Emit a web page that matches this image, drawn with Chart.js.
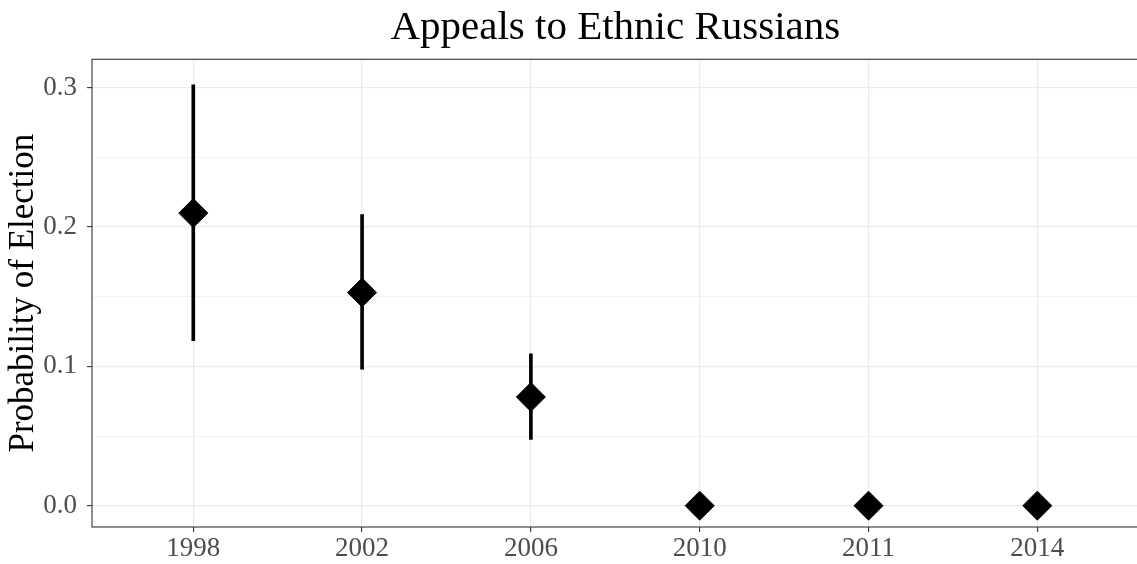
<!DOCTYPE html>
<html>
<head>
<meta charset="utf-8">
<script src="https://cdn.jsdelivr.net/npm/chart.js@4/dist/chart.umd.min.js"></script>
<style>
  html, body { margin: 0; padding: 0; background: #FFFFFF; overflow: hidden; }
  #chart { display: block; }
</style>
</head>
<body>
<canvas id="chart" width="1140" height="564"></canvas>
<script>
// Election years (discrete x axis)
const years = ['1998', '2002', '2006', '2010', '2011', '2014'];
// Point estimates and interval bounds
const estimates = [0.210, 0.153, 0.078, 0, 0, 0];
const lower = [0.1185, 0.098, 0.0475, 0, 0, 0];
const upper = [0.302, 0.209, 0.109, 0, 0, 0];
// y tick positions (major every 0.1, minor in between)
const yTicks = [0, 0.05, 0.1, 0.15, 0.2, 0.25, 0.3];

const serif = '"Liberation Serif", "Times New Roman", serif';
const gridColor = '#EBEBEB';
const tickColor = '#333333';

function isMajor(v) {
  return Math.abs(Math.round(v * 10) - v * 10) < 1e-6;
}

// ggplot-style panel border
const panelBorder = {
  id: 'panelBorder',
  afterDatasetsDraw(chart) {
    const {ctx, chartArea} = chart;
    ctx.save();
    ctx.strokeStyle = '#333333';
    ctx.lineWidth = 1.1;
    ctx.strokeRect(chartArea.left, chartArea.top, chartArea.right - chartArea.left, chartArea.bottom - chartArea.top);
    ctx.restore();
  }
};

const pointData = years.map((y, i) => ({x: i, y: estimates[i]}));
const barData = years.map((y, i) => ({x: i, y: [lower[i], upper[i]]}));

new Chart(document.getElementById('chart'), {
  type: 'bar',
  data: {
    datasets: [
      {
        type: 'scatter',
        data: pointData,
        pointStyle: 'rectRot',
        pointRadius: 14.5,
        backgroundColor: '#000000',
        borderColor: '#000000',
        borderWidth: 1,
        order: 0
      },
      {
        type: 'bar',
        data: barData,
        backgroundColor: '#000000',
        borderWidth: 0,
        barThickness: 3,
        order: 1
      }
    ]
  },
  options: {
    responsive: false,
    animation: false,
    layout: { autoPadding: false, padding: { left: 0, right: 1.4, top: 0, bottom: 0 } },
    plugins: {
      legend: { display: false },
      tooltip: { enabled: false },
      title: {
        display: true,
        text: 'Appeals to Ethnic Russians',
        fullSize: false,
        color: '#000000',
        font: { family: serif, size: 41, weight: 'normal', lineHeight: 1.2 },
        padding: { top: 4, bottom: 6.1 }
      }
    },
    scales: {
      x: {
        type: 'linear',
        min: -0.6,
        max: 5.6,
        offset: false,
        afterBuildTicks: s => { s.ticks = years.map((y, i) => ({value: i})); },
        afterFit: s => { s.height = 37; s.paddingLeft = 0; s.paddingRight = 0; },
        border: { display: false },
        grid: {
          offset: false,
          color: gridColor,
          lineWidth: 1.2,
          tickColor: tickColor,
          tickLength: 5,
          tickWidth: 1.1
        },
        ticks: {
          callback: v => years[v],
          color: '#4D4D4D',
          padding: 1,
          maxRotation: 0,
          font: { family: serif, size: 27 }
        }
      },
      y: {
        min: -0.0153,
        max: 0.3204,
        afterBuildTicks: s => { s.ticks = yTicks.map(v => ({value: v})); },
        afterFit: s => { s.width = 92; },
        border: { display: false },
        grid: {
          color: gridColor,
          lineWidth: ctx => isMajor(ctx.tick.value) ? 1.2 : 0.6,
          tickColor: ctx => isMajor(ctx.tick.value) ? tickColor : 'rgba(0,0,0,0)',
          tickLength: 5,
          tickWidth: 1.1
        },
        ticks: {
          callback: v => isMajor(v) ? v.toFixed(1) : '',
          color: '#4D4D4D',
          padding: 10,
          font: { family: serif, size: 27 }
        },
        title: {
          display: true,
          text: 'Probability of Election',
          color: '#000000',
          font: { family: serif, size: 35, lineHeight: 1 },
          padding: { top: 6.5, bottom: 0 }
        }
      }
    }
  },
  plugins: [panelBorder]
});
</script>
</body>
</html>
